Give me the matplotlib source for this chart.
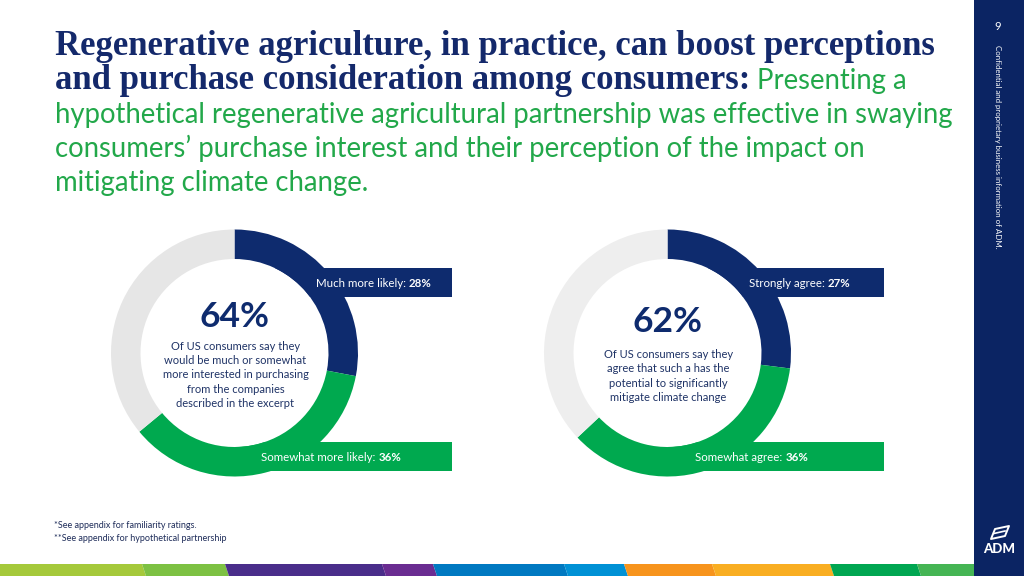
import numpy as np
import matplotlib.pyplot as plt
from matplotlib.patches import Rectangle, Circle, Polygon

W, H = 1024, 576

# --- data ---
top_labels = ["Much more likely", "Strongly agree"]
bottom_labels = ["Somewhat more likely", "Somewhat agree"]
top_vals = [28, 27]
bottom_vals = [36, 36]
headline_vals = [64, 62]
descriptions = [
    "Of US consumers say they\nwould be much or somewhat\nmore interested in purchasing\nfrom the companies\ndescribed in the excerpt",
    "Of US consumers say they\nagree that such a has the\npotential to significantly\nmitigate climate change",
]
title_navy = ["Regenerative agriculture, in practice, can boost perceptions",
              "and purchase consideration among consumers:"]
title_green = ["Presenting a",
               "hypothetical regenerative agricultural partnership was effective in swaying",
               "consumers\u2019 purchase interest and their perception of the impact on",
               "mitigating climate change."]
footnotes = ["*See appendix for familiarity ratings.",
             "**See appendix for hypothetical partnership"]

strip_edges = [0, 142, 225, 382, 433, 564, 624, 712, 830, 917, 974]
strip_colors = ['#A5C93B', '#7DC143', '#4A2D8A', '#6A2C91', '#0079C1',
                '#0091D5', '#F7941D', '#F9AE22', '#00A651', '#45B554']

NAVY = '#0E2B6E'
SIDE = '#0B2463'
GREEN = '#00A94F'
TGREEN = '#22A84A'
GRAYS = ['#E6E6E6', '#EEEEEE']
SERIF = 'Liberation Serif'
SANS = 'Lato'

centers = [(234.5, 353), (667.5, 353)]
R_OUT, R_IN = 123.5, 94
bar_right = [452, 884]

fig = plt.figure(figsize=(10.24, 5.76), dpi=100)
renderer = fig.canvas.get_renderer()

ax_bg = fig.add_axes([0, 0, 1, 1])
ax_bg.set_xlim(0, W)
ax_bg.set_ylim(H, 0)
ax_bg.axis('off')

# sidebar + colour strip
ax_bg.add_patch(Rectangle((974, 0), 50, H, color=SIDE, lw=0))
for i, c in enumerate(strip_colors):
    x0, x1 = strip_edges[i], strip_edges[i + 1]
    x1b = x1 + 4 if i < len(strip_colors) - 1 else x1
    ax_bg.add_patch(Polygon([(x0, 564), (x1, 564), (x1b, 576), (x0 + 4 if i else 0, 576)],
                            closed=True, color=c, lw=0))

# donuts
for i, (cx, cy) in enumerate(centers):
    pl, pr, pv = 130, 230, 130
    ax = fig.add_axes([(cx - pl) / W, (H - cy - pv) / H, (pl + pr) / W, 2 * pv / H])
    vals = [top_vals[i], bottom_vals[i], 100 - top_vals[i] - bottom_vals[i]]
    ax.pie(vals, colors=[NAVY, GREEN, GRAYS[i]], startangle=90, counterclock=False,
           radius=1, wedgeprops=dict(width=(R_OUT - R_IN) / R_OUT, linewidth=0))
    ax.set_xlim(-pl / R_OUT, pr / R_OUT)
    ax.set_ylim(-pv / R_OUT, pv / R_OUT)
    w = (bar_right[i] - cx) / R_OUT
    ax.add_patch(Rectangle((0, (cy - 297) / R_OUT), w, 29 / R_OUT, color=NAVY, lw=0, zorder=0))
    ax.add_patch(Rectangle((0, (cy - 471) / R_OUT), w, 29 / R_OUT, color=GREEN, lw=0, zorder=0))
    ax.add_patch(Circle((0, 0), R_IN / R_OUT, color='white', lw=0, zorder=0.5))
    ax.axis('off')

ax_t = fig.add_axes([0, 0, 1, 1])
ax_t.set_xlim(0, W)
ax_t.set_ylim(H, 0)
ax_t.axis('off')


def runs(x, y, parts, gap=0, center=False, va='baseline'):
    # lay out text pieces one after another on one line
    objs = []
    for s, kw in parts:
        objs.append(ax_t.text(0, y, s, ha='left', va=va, **kw))
    widths = [o.get_window_extent(renderer).width for o in objs]
    total = sum(widths) + gap * (len(objs) - 1)
    xx = x - total / 2 if center else x
    for o, wd in zip(objs, widths):
        o.set_x(xx)
        xx += wd + gap
    return xx


# title
tnavy = dict(family=SERIF, weight='bold', color='#14296B', fontsize=25)
tgreen = dict(family=SANS, color=TGREEN, fontsize=19.8)
ax_t.text(55, 55, title_navy[0], ha='left', va='baseline', **tnavy)
runs(55, 89, [(title_navy[1], tnavy), (title_green[0], tgreen)], gap=7)
for k, s in enumerate(title_green[1:]):
    ax_t.text(55, 123 + 34 * k, s, ha='left', va='baseline', **tgreen)

# centre texts and bar labels
lab_x_top = [374, 800]
lab_x_bot = [331, 752]
head_y = [317, 322]
desc_y = [375, 376]
for i, (cx, cy) in enumerate(centers):
    ax_t.text(cx, head_y[i], f"{headline_vals[i]}%", ha='center', va='center',
              family=SANS, weight='bold', color=NAVY, fontsize=25.5)
    ax_t.text(cx + 1, desc_y[i], descriptions[i], ha='center', va='center',
              family=SANS, color='#1F3366', fontsize=8, linespacing=1.36)
    lab = dict(family=SANS, color='white', fontsize=8.3)
    labb = dict(family=SANS, color='white', fontsize=8.3, weight='bold')
    runs(lab_x_top[i], 287, [(top_labels[i] + ":", lab), (f"{top_vals[i]}%", labb)],
         gap=3, center=True)
    runs(lab_x_bot[i], 461, [(bottom_labels[i] + ":", lab), (f"{bottom_vals[i]}%", labb)],
         gap=3, center=True)

# footnotes
for k, s in enumerate(footnotes):
    ax_t.text(54, 528 + 13 * k, s, ha='left', va='baseline', family=SANS,
              color='#1F2D5A', fontsize=6.5)

# sidebar text + logo
ax_t.text(998, 27, "9", ha='center', va='center', family=SANS, color='white', fontsize=8)
ax_t.text(998, 45, "Confidential and proprietary business information of ADM.",
          ha='center', va='top', rotation=270, family=SANS, color='white', fontsize=5.7)
ax_t.add_patch(Polygon([(991, 539), (995, 529), (1009, 526), (1005, 536)], closed=True,
                       fill=False, ec='white', lw=1.4, joinstyle='round'))
ax_t.plot([994, 1005], [533.5, 531], color='white', lw=1.2)
ax_t.text(999, 549, "ADM", ha='center', va='center', family=SANS, weight='black',
          color='white', fontsize=9.5)

fig.savefig('out.png', dpi=100)
